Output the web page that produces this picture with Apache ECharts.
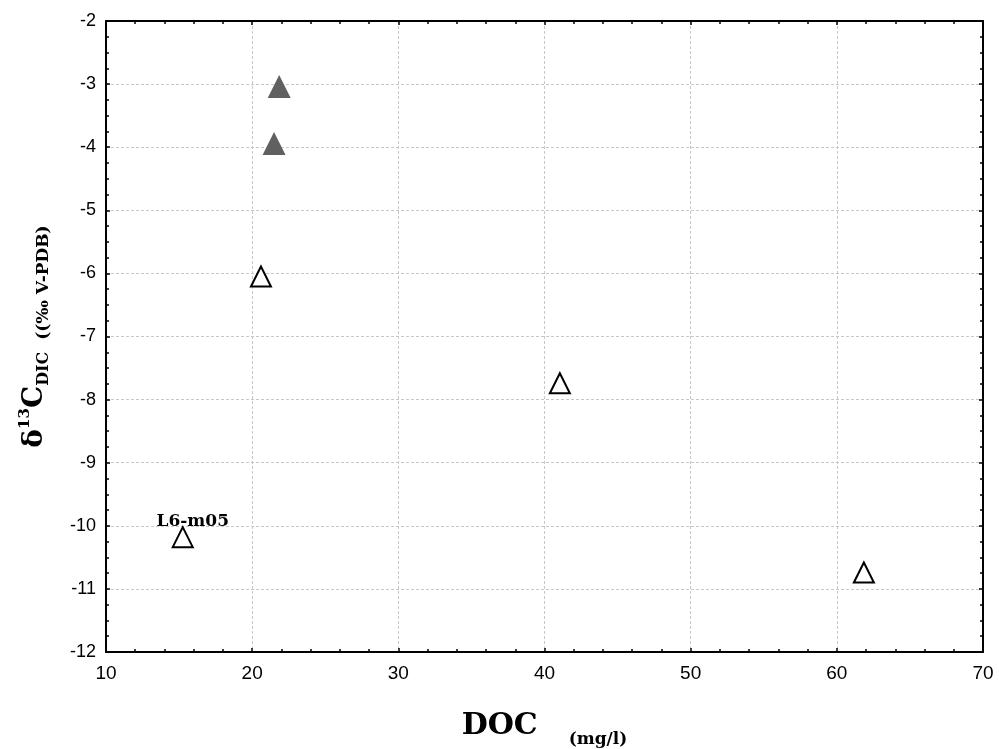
<!DOCTYPE html>
<html>
<head>
<meta charset="utf-8">
<script src="https://cdn.jsdelivr.net/npm/echarts@6/dist/echarts.min.js"></script>
<style>
html,body{margin:0;padding:0;background:#fff;}
#chart{width:999px;height:749px;}
</style>
</head>
<body>
<div id="chart"></div>
<script>
// DOC (mg/l) and δ13C-DIC values
const docFilled = [21.85, 21.5];
const dicFilled = [-3.04, -3.94];
const docOpen = [20.6, 41.05, 61.85, 15.25];
const dicOpen = [-6.05, -7.74, -10.74, -10.18];
const openLabels = ['', '', '', 'L6-m05'];
const xTicks = [10, 20, 30, 40, 50, 60, 70];
const yTicks = [-12, -11, -10, -9, -8, -7, -6, -5, -4, -3, -2];

const chart = echarts.init(document.getElementById('chart'));
const axisLine = {show: true, onZero: false, lineStyle: {color: '#000', width: 2}};
const axisTick = {show: true, inside: true, length: 4, lineStyle: {color: '#000', width: 1.5}};
const minorTickX = {show: true, splitNumber: 5, length: 3, lineStyle: {color: '#000', width: 1.5}};
const minorTickY = {show: true, splitNumber: 4, length: 3, lineStyle: {color: '#000', width: 1.5}};
const splitLine = {show: true, lineStyle: {color: '#c8c8c8', width: 1, type: [3, 2]}};
const serif = 'DejaVu Serif';

const openData = docOpen.map((x, i) => ({
  value: [x, dicOpen[i]],
  label: {show: openLabels[i] !== '', formatter: openLabels[i]}
}));

chart.setOption({
  animation: false,
  backgroundColor: '#fff',
  grid: {left: 106, right: 16, top: 21, bottom: 97, containLabel: false, outerBoundsMode: 'none'},
  xAxis: [{
    type: 'value', min: xTicks[0], max: xTicks[xTicks.length - 1], interval: 10,
    position: 'bottom',
    axisLine: axisLine, axisTick: axisTick, minorTick: minorTickX,
    splitLine: splitLine,
    axisLabel: {margin: 12, color: '#000', fontFamily: 'Liberation Sans', fontSize: 19},
    name: '{a|DOC}{b|(mg/l)}',
    nameLocation: 'middle', nameGap: 52,
    nameTextStyle: {
      rich: {
        a: {fontFamily: serif, fontWeight: 'bold', fontSize: 30, color: '#000', lineHeight: 44, verticalAlign: 'middle'},
        b: {fontFamily: serif, fontWeight: 'bold', fontSize: 17, color: '#000', lineHeight: 17, verticalAlign: 'bottom', padding: [0, 0, 0, 31]}
      }
    }
  }, {
    type: 'value', min: xTicks[0], max: xTicks[xTicks.length - 1], interval: 10,
    position: 'top',
    axisLine: axisLine, axisTick: axisTick, minorTick: minorTickX,
    splitLine: {show: false}, axisLabel: {show: false}
  }],
  yAxis: [{
    type: 'value', min: yTicks[0], max: yTicks[yTicks.length - 1], interval: 1,
    position: 'left',
    axisLine: axisLine, axisTick: axisTick, minorTick: minorTickY,
    splitLine: splitLine,
    axisLabel: {margin: 10, color: '#000', fontFamily: 'Liberation Sans', fontSize: 18},
    name: '{d|δ}{sup|13}{c|C}{sub|DIC}{u|  ((‰ V-PDB)}',
    nameLocation: 'middle', nameGap: 54,
    nameTextStyle: {
      rich: {
        d: {fontFamily: serif, fontWeight: 'bold', fontSize: 28, color: '#000', lineHeight: 34, verticalAlign: 'middle'},
        sup: {fontFamily: serif, fontWeight: 'bold', fontSize: 15, color: '#000', lineHeight: 14, verticalAlign: 'top'},
        c: {fontFamily: serif, fontWeight: 'bold', fontSize: 28, color: '#000', lineHeight: 34, verticalAlign: 'middle'},
        sub: {fontFamily: serif, fontWeight: 'bold', fontSize: 16, color: '#000', lineHeight: 15, verticalAlign: 'bottom'},
        u: {fontFamily: serif, fontWeight: 'bold', fontSize: 17, color: '#000', lineHeight: 24, verticalAlign: 'bottom'}
      }
    }
  }, {
    type: 'value', min: yTicks[0], max: yTicks[yTicks.length - 1], interval: 1,
    position: 'right',
    axisLine: axisLine, axisTick: axisTick, minorTick: minorTickY,
    splitLine: {show: false}, axisLabel: {show: false}
  }],
  series: [{
    name: 'filled',
    type: 'scatter',
    xAxisIndex: 0, yAxisIndex: 0,
    symbol: 'triangle',
    symbolSize: 23,
    itemStyle: {color: '#606060', opacity: 1},
    data: docFilled.map((x, i) => [x, dicFilled[i]]),
    z: 3
  }, {
    name: 'open',
    type: 'scatter',
    xAxisIndex: 0, yAxisIndex: 0,
    symbol: 'triangle',
    symbolSize: 20,
    itemStyle: {color: '#fff', borderColor: '#000', borderWidth: 2, opacity: 1},
    label: {
      position: 'top', distance: -4, offset: [10, 0],
      color: '#000', fontFamily: serif, fontWeight: 'bold', fontSize: 17
    },
    data: openData,
    z: 3
  }]
});
</script>
</body>
</html>
